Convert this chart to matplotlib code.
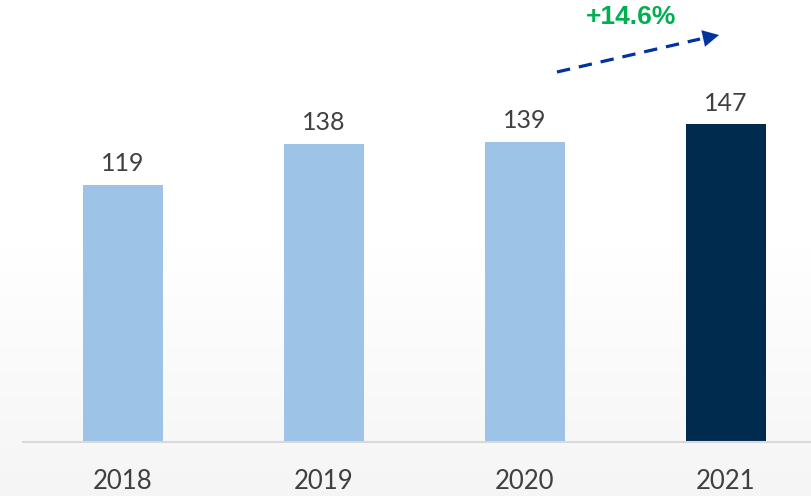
import numpy as np
import matplotlib.pyplot as plt
from matplotlib.colors import LinearSegmentedColormap

years = ['2018', '2019', '2020', '2021']
values = [119, 138, 139, 147]
growth_label = '+14.6%'

light = '#9dc3e6'
dark = '#002b4f'
colors = [light, light, light, dark]

fig = plt.figure(figsize=(8.12, 4.96), dpi=100)

# soft background gradient, white at top to light gray at the bottom
bg = fig.add_axes([0, 0, 1, 1], zorder=-10)
grad = np.linspace(0, 1, 256).reshape(-1, 1)
cmap = LinearSegmentedColormap.from_list('bg', ['#ffffff', '#ffffff', '#f5f5f5'])
bg.imshow(grad, aspect='auto', cmap=cmap, extent=[0, 1, 0, 1], origin='upper')
bg.axis('off')

ax = fig.add_axes([22.5 / 812, 54 / 496, 1 - 22.5 / 812, 442 / 496])
ax.patch.set_alpha(0)
x = np.arange(len(years))
bars = ax.bar(x, values, width=0.4, color=colors, zorder=2)
ax.set_xlim(-0.5, 3.428)
ax.set_ylim(0, 204.6)

for b, v in zip(bars, values):
    ax.text(b.get_x() + b.get_width() / 2, v + 4.5, str(v), ha='center', va='bottom',
            fontsize=18, color='#404040', family='Lato')

for s in ['top', 'right', 'left']:
    ax.spines[s].set_visible(False)
ax.spines['bottom'].set_color('#d9d9d9')
ax.spines['bottom'].set_linewidth(1.5)
ax.set_yticks([])
ax.set_xticks(x)
ax.set_xticklabels(years, fontsize=18.5, color='#404040', family='Lato')
ax.tick_params(axis='x', length=0, pad=19.5)

# growth arrow
fig.add_artist(plt.Line2D([557 / 812, 700 / 812], [1 - 72 / 496, 1 - 39 / 496],
                          color='#0033a0', lw=2.3, ls=(0, (4.2, 2.8))))
ax.annotate('', xy=(719 / 812, 1 - 35 / 496), xytext=(698 / 812, 1 - 39.6 / 496),
            xycoords='figure fraction', textcoords='figure fraction',
            arrowprops=dict(arrowstyle='-|>,head_length=1.15,head_width=0.6',
                            color='#0033a0', lw=0.1, shrinkA=0, shrinkB=0))
fig.text(631 / 812, 1 - 17 / 496, growth_label, ha='center', va='center',
         fontsize=19, fontweight='bold', color='#00b050', family='Liberation Sans')

fig.savefig('out.png', dpi=100)
